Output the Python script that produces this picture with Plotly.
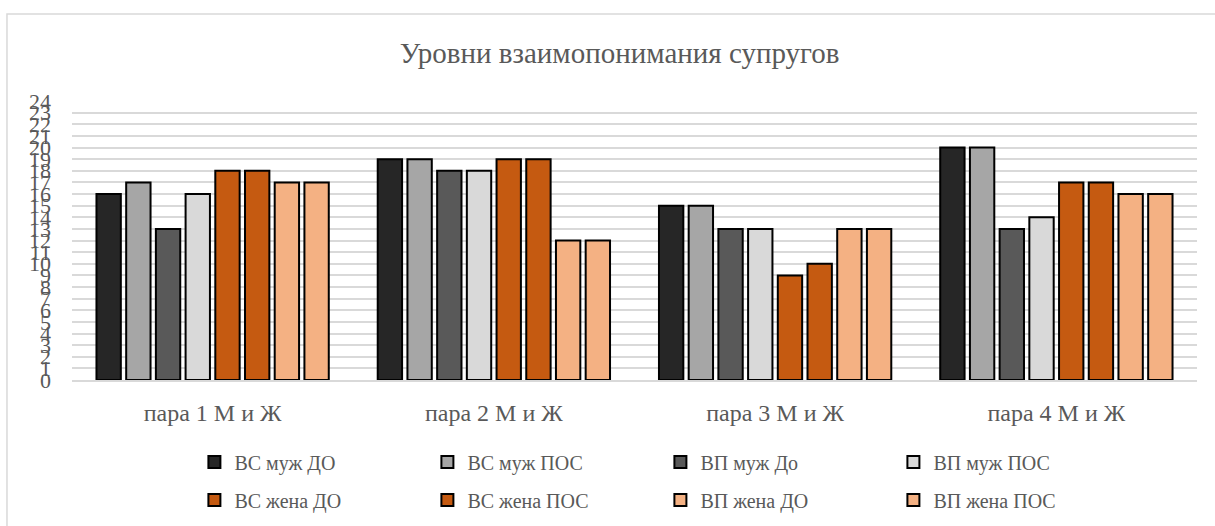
import plotly.graph_objects as go

categories = ["пара 1 М и Ж", "пара 2 М и Ж", "пара 3 М и Ж", "пара 4 М и Ж"]

series_names = [
    "ВС муж ДО", "ВС муж ПОС", "ВП муж До", "ВП муж ПОС",
    "ВС жена ДО", "ВС жена ПОС", "ВП жена ДО", "ВП жена ПОС",
]

vs_muzh_do = [16, 19, 15, 20]
vs_muzh_pos = [17, 19, 15, 20]
vp_muzh_do = [13, 18, 13, 13]
vp_muzh_pos = [16, 18, 13, 14]
vs_zhena_do = [18, 19, 9, 17]
vs_zhena_pos = [18, 19, 10, 17]
vp_zhena_do = [17, 12, 13, 16]
vp_zhena_pos = [17, 12, 13, 16]

series_values = [
    vs_muzh_do, vs_muzh_pos, vp_muzh_do, vp_muzh_pos,
    vs_zhena_do, vs_zhena_pos, vp_zhena_do, vp_zhena_pos,
]

colors = [
    "#262626", "#a6a6a6", "#595959", "#d9d9d9",
    "#c55a11", "#c55a11", "#f4b183", "#f4b183",
]

y_ticks = list(range(0, 25))

FONT = "Liberation Serif"
TEXT = "#595959"

fig = go.Figure()
for i, (name, vals, col) in enumerate(zip(series_names, series_values, colors)):
    fig.add_trace(go.Bar(
        name=name,
        x=categories,
        y=vals,
        marker=dict(color=col, line=dict(color="#000000", width=2)),
        legend="legend" if i < 4 else "legend2",
    ))

legend_common = dict(
    orientation="h",
    xref="container",
    yref="container",
    xanchor="left",
    yanchor="middle",
    font=dict(family=FONT, size=20, color=TEXT),
    entrywidth=188,
    entrywidthmode="pixels",
    itemwidth=30,
    bgcolor="rgba(0,0,0,0)",
)

fig.update_layout(
    width=1215,
    height=526,
    font=dict(family=FONT, color=TEXT),
    margin=dict(l=72, r=18, t=101, b=146, autoexpand=False),
    paper_bgcolor="white",
    plot_bgcolor="white",
    barmode="group",
    bargap=0.155,
    bargroupgap=0.18,
    title=dict(
        text="Уровни взаимопонимания супругов",
        x=0.51, xanchor="center",
        y=0.9, yanchor="middle",
        font=dict(family=FONT, size=29, color=TEXT),
    ),
    xaxis=dict(
        showgrid=False,
        showline=True,
        linecolor="#d9d9d9",
        linewidth=1.5,
        tickfont=dict(family=FONT, size=24, color=TEXT),
        ticklabelstandoff=10,
    ),
    yaxis=dict(
        range=[0, 24],
        tickvals=y_ticks,
        ticktext=[str(v) for v in y_ticks],
        showgrid=True,
        gridcolor="#d9d9d9",
        gridwidth=1.5,
        zeroline=False,
        showline=False,
        tickfont=dict(family=FONT, size=22, color=TEXT),
        ticklabelstandoff=20,
    ),
    legend=dict(x=0.16, y=(526 - 462) / 526, **legend_common),
    legend2=dict(x=0.16, y=(526 - 500) / 526, **legend_common),
    shapes=[dict(
        type="rect", xref="paper", yref="paper",
        x0=-0.0578, x1=1.03, y0=-0.6, y1=(380 - 14) / 279,
        line=dict(color="#d9d9d9", width=1.5),
        fillcolor="rgba(0,0,0,0)", layer="below",
    )],
)

fig.write_html("out.html")
